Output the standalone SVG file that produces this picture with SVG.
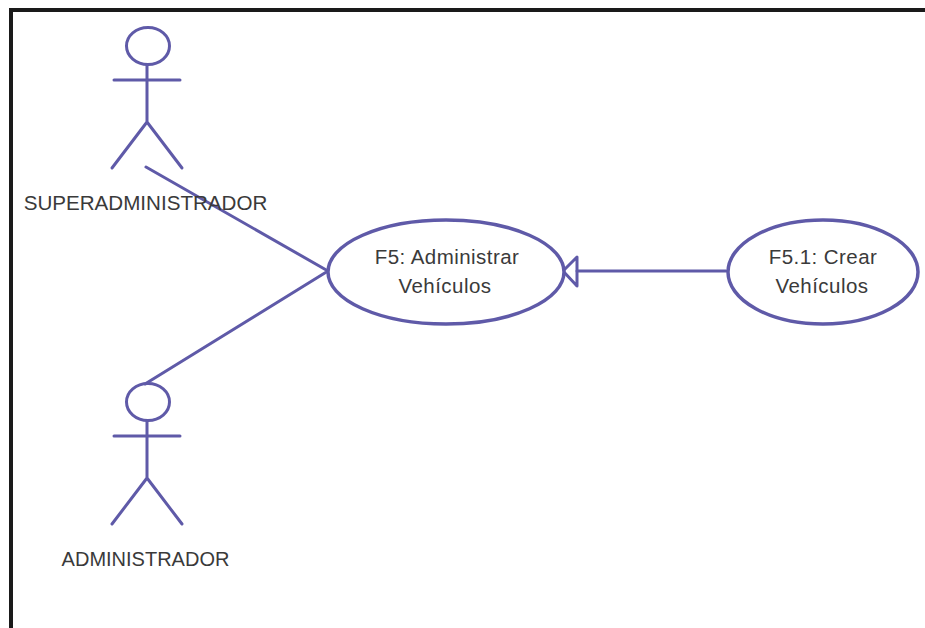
<svg xmlns="http://www.w3.org/2000/svg" width="925" height="628" viewBox="0 0 925 628">
<style>
.l{fill:none;stroke:#5f5aa8;stroke-width:3;stroke-linecap:round;stroke-linejoin:round}
.e{fill:#fff;stroke:#5f5aa8;stroke-width:3.5}
.t{font-family:"Liberation Sans",Arial,sans-serif;font-size:20px;fill:#3a3a3a;text-anchor:middle}
.u{font-size:20.5px;letter-spacing:.45px}
</style>
<rect width="925" height="628" fill="#fff"/>
<path d="M11 628V10H925" fill="none" stroke="#1a1a1a" stroke-width="4"/>
<g id="connectors">
<path class="l" d="M146 167L328 271L145 384"/>
<path class="l" d="M577 271H726"/>
<path class="l" d="M577 257V286L563 271Z"/>
</g>
<g id="actor-super">
<ellipse class="l" cx="148" cy="46" rx="21.500" ry="18.500"/>
<path class="l" d="M147 65V122M114 80H180M147 122L112 168M147 122L182 168"/>
<text class="t" x="145.500" y="210" style="font-size:20.600px">SUPERADMINISTRADOR</text>
</g>
<g id="actor-admin">
<ellipse class="l" cx="148" cy="402" rx="21.500" ry="18.500"/>
<path class="l" d="M147 421V478M114 436H180M147 478L112 524M147 478L182 524"/>
<text class="t" x="145.500" y="566">ADMINISTRADOR</text>
</g>
<g id="uc-f5">
<ellipse class="e" cx="446" cy="272" rx="118" ry="52"/>
<text class="t u" x="447" y="264">F5: Administrar</text>
<text class="t u" x="445" y="293">Vehículos</text>
</g>
<g id="uc-f51">
<ellipse class="e" cx="823" cy="272" rx="95" ry="52"/>
<text class="t u" x="823" y="264">F5.1: Crear</text>
<text class="t u" x="822" y="293">Vehículos</text>
</g>
</svg>
